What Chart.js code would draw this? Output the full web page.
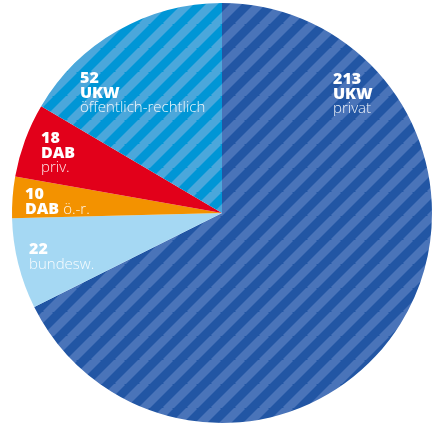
<!DOCTYPE html>
<html>
<head>
<meta charset="utf-8">
<script src="https://cdn.jsdelivr.net/npm/chart.js@4.4.0/dist/chart.umd.min.js"></script>
<style>
  html, body { margin: 0; padding: 0; background: #fff; }
  #wrap { width: 432px; height: 425px; }
</style>
</head>
<body>
<div id="wrap"><canvas id="pie"></canvas></div>
<script>
    "use strict";

    // Data (clockwise from 12 o'clock)
    var counts = [213, 22, 10, 18, 52];
    var keys = ["UKW", "", "DAB", "DAB", "UKW"];
    var subs = ["privat", "bundesw.", "ö.-r.", "priv.", "öffentlich-rechtlich"];

    // striped fill
    var stripes = function (base, light) {
        var T = 24;
        var c = document.createElement("canvas");
        c.width = T; c.height = T;
        var g = c.getContext("2d");
        g.fillStyle = base;
        g.fillRect(0, 0, T, T);
        g.strokeStyle = light;
        g.lineWidth = T / (2 * Math.SQRT2);
        [0, T, 2 * T].forEach(function (k) {
            g.beginPath();
            g.moveTo(k + 2, -2);
            g.lineTo(k - T - 2, T + 2);
            g.stroke();
        });
        return g.createPattern(c, "repeat");
    };

    // label offsets relative to pie centre (first baseline)
    var labelPos = [
        {dx: 111, dy: -129},
        {dx: -193, dy: 41},
        {dx: -197, dy: -14, inline: true},
        {dx: -181, dy: -70},
        {dx: -142, dy: -130}
    ];

    var sliceLabels = {
        id: "sliceLabels",
        afterDatasetsDraw: function (chart) {
            var ctx = chart.ctx;
            var arc = chart.getDatasetMeta(0).data[0];
            var cx = arc.x, cy = arc.y;
            var lh = 14.5;
            var boldFont = "800 16px 'Open Sans'";
            var thinFont = "300 15px 'Open Sans'";
            var thinCol = "rgba(255,255,255,0.92)";
            ctx.save();
            ctx.textBaseline = "alphabetic";
            ctx.textAlign = "left";
            counts.forEach(function (v, i) {
                var p = labelPos[i];
                var x = cx + p.dx, y = cy + p.dy;
                ctx.fillStyle = "#ffffff";
                ctx.font = boldFont;
                ctx.fillText(String(v), x, y);
                y += lh;
                if (keys[i]) {
                    ctx.font = boldFont;
                    ctx.fillText(keys[i], x, y);
                    if (p.inline) {
                        var w = ctx.measureText(keys[i]).width + 4;
                        ctx.font = thinFont;
                        ctx.fillStyle = thinCol;
                        ctx.fillText(subs[i], x + w, y);
                        return;
                    }
                    y += lh;
                }
                ctx.font = thinFont;
                ctx.fillStyle = thinCol;
                ctx.fillText(subs[i], x, y);
            });
            ctx.restore();
        }
    };

    var ctx1 = document.getElementById("pie").getContext("2d");
    var myChart = new Chart(ctx1, {
        type: "pie",
        data: {
            labels: subs,
            datasets: [{
                data: counts,
                backgroundColor: [
                    stripes("#2256a4", "#4a74b9"),
                    "#a5d8f3",
                    "#f39200",
                    "#e2001a",
                    stripes("#0096d6", "#4ba7db")
                ],
                borderWidth: 0
            }]
        },
        options: {
            responsive: true,
            maintainAspectRatio: false,
            animation: false,
            layout: { padding: { left: 12, right: 0, top: 3, bottom: 2 } },
            plugins: {
                legend: { display: false },
                tooltip: { enabled: false }
            }
        },
        plugins: [sliceLabels]
    });
</script>
</body>
</html>
